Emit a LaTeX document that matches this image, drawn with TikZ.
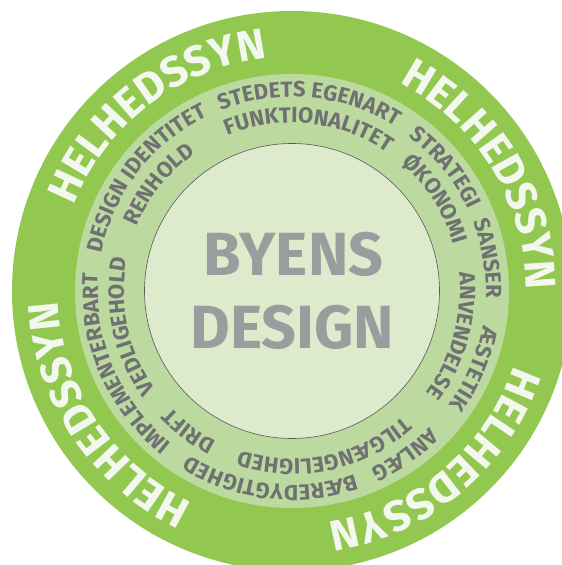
\documentclass[tikz,border=0pt]{standalone}
\usepackage{fontspec}
\setmainfont{Fira Sans}
\usetikzlibrary{decorations.text}
\definecolor{outergreen}{HTML}{92C84F}
\definecolor{midgreen}{HTML}{BCD9A0}
\definecolor{innergreen}{HTML}{DDEACB}
\definecolor{ringgray}{HTML}{6F7072}
\definecolor{centergray}{HTML}{9A9C9E}
\definecolor{ringwhite}{HTML}{F3F8EE}
\newcommand\ringfont{\fontsize{22}{22}\selectfont\bfseries\color{ringgray}}
\newcommand\bigringfont{\fontsize{43}{43}\selectfont\bfseries\color{ringwhite}}
\newcommand\ringlabel[3]{%
  \path[decorate,decoration={text along path,text align=center,text={#3}}]
    ({#1+60}:#2) arc[start angle={#1+60}, end angle={#1-60}, radius=#2];}
\tikzset{
  centertext/.style={font=\fontsize{61}{61}\selectfont\bfseries, text=centergray, anchor=base, inner sep=0pt}
}
\begin{document}
\begin{tikzpicture}[x=1pt,y=1pt]
\useasboundingbox (-292,-274) rectangle (270,291);
\clip (-292,-274) rectangle (270,291);
\fill[white] (-292,-274) rectangle (270,291);
\fill[outergreen] (0,0) circle[radius=280];
\fill[midgreen] (0,0) circle[radius=217];
\filldraw[fill=innergreen, draw=black!65, line width=0.6pt] (0,0) circle[radius=147.5];
% outer ring
\ringlabel{127.4}{234}{|\bigringfont|HELHEDSSYN}
\ringlabel{31.5}{234}{|\bigringfont|HELHEDSSYN}
\ringlabel{-49.9}{234}{|\bigringfont|HELHEDSSYN}
\ringlabel{-146.3}{234}{|\bigringfont|HELHEDSSYN}
% middle ring, outer row
\ringlabel{142.3}{194}{|\ringfont|DESIGN IDENTITET}
\ringlabel{84.7}{194}{|\ringfont|STEDETS EGENART}
\ringlabel{38.9}{194}{|\ringfont|STRATEGI}
\ringlabel{9.4}{194}{|\ringfont|SANSER}
\ringlabel{-23.1}{194}{|\ringfont|ÆSTETIK}
\ringlabel{-55.4}{194}{|\ringfont|ANLÆG}
\ringlabel{-96.6}{194}{|\ringfont|BÆREDYGTIGHED}
\ringlabel{-156.6}{194}{|\ringfont|IMPLEMENTERBART}
% middle ring, inner row
\ringlabel{141.3}{168}{|\ringfont|RENHOLD}
\ringlabel{84}{168}{|\ringfont|FUNKTIONALITET}
\ringlabel{32.6}{168}{|\ringfont|ØKONOMI}
\ringlabel{-15.5}{168}{|\ringfont|ANVENDELSE}
\ringlabel{-78.2}{168}{|\ringfont|TILGÆNGELIGHED}
\ringlabel{-126.4}{168}{|\ringfont|DRIFT}
\ringlabel{-167.7}{168}{|\ringfont|VEDLIGEHOLD}
% centre
\node[centertext] (byens) at (1.5,16) {BYENS};
\node[centertext] (design) at (0.5,-57) {DESIGN};
\end{tikzpicture}
\end{document}
